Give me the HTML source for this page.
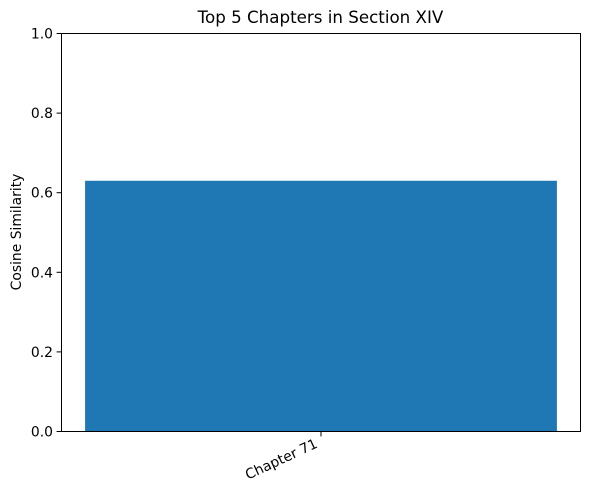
<!DOCTYPE html>
<html><head><meta charset="utf-8"><style>
body{margin:0;background:#fff;}
svg{display:block;font-family:"DejaVu Sans","Liberation Sans",sans-serif;}
</style></head><body>
<svg id="chart" width="590" height="490" viewBox="0 0 590 490" xmlns="http://www.w3.org/2000/svg">
<rect width="590" height="490" fill="#fff"/>
<text x="320.5" y="23" font-size="16.7" text-anchor="middle">Top 5 Chapters in Section XIV</text>
<text transform="translate(21,232) rotate(-90)" font-size="13.9" text-anchor="middle">Cosine Similarity</text>
<g id="bars"></g>
<g id="yticks"></g>
<g id="xticks"></g>
<rect x="61.5" y="33.5" width="519" height="398" fill="none" stroke="#000" stroke-width="1"/>
</svg>
<script>
const categories = ["Chapter 71"];
const values = [0.63];
const yTicks = [0, 0.2, 0.4, 0.6, 0.8, 1.0];
const yTickLabels = ["0.0","0.2","0.4","0.6","0.8","1.0"];

const NS="http://www.w3.org/2000/svg";
const L=61.5,R=580.5,T=33.5,B=431.5;
const n=categories.length;
const xmin=-0.4-0.04, xmax=(n-1)+0.4+0.04;
function x(v){return L+(v-xmin)/(xmax-xmin)*(R-L);}
function y(v){return B-(v-0)/(1-0)*(B-T);}
function mk(tag,attrs,parent){const e=document.createElementNS(NS,tag);for(const k in attrs)e.setAttribute(k,attrs[k]);parent.appendChild(e);return e;}
const bars=document.getElementById('bars');
categories.forEach((c,i)=>{
  const r=mk('rect',{x:x(i-0.4),y:y(values[i]),width:x(i+0.4)-x(i-0.4),height:y(0)-y(values[i]),fill:'#1f77b4'},bars);
  
  
});
const yt=document.getElementById('yticks');
yTicks.forEach((t,i)=>{
  const g=mk('g',{},yt);
  
  
  mk('line',{x1:L-4.9,x2:L,y1:y(t),y2:y(t),stroke:'#000'},g);
  const tx=mk('text',{x:L-8.5,y:y(t)+5,'font-size':'13.9','text-anchor':'end'},g);
  tx.textContent=yTickLabels[i];
});
const xt=document.getElementById('xticks');
categories.forEach((c,i)=>{
  const g=mk('g',{},xt);
  
  
  const cx=x(i);
  mk('line',{x1:cx,x2:cx,y1:B,y2:B+4.9,stroke:'#000'},g);
  const tx=mk('text',{transform:`translate(${cx-7},${B+6}) rotate(-25)`,'font-size':'13.9','text-anchor':'end',dy:'0.75em'},g);
  tx.textContent=c;
});
</script>
</body></html>
